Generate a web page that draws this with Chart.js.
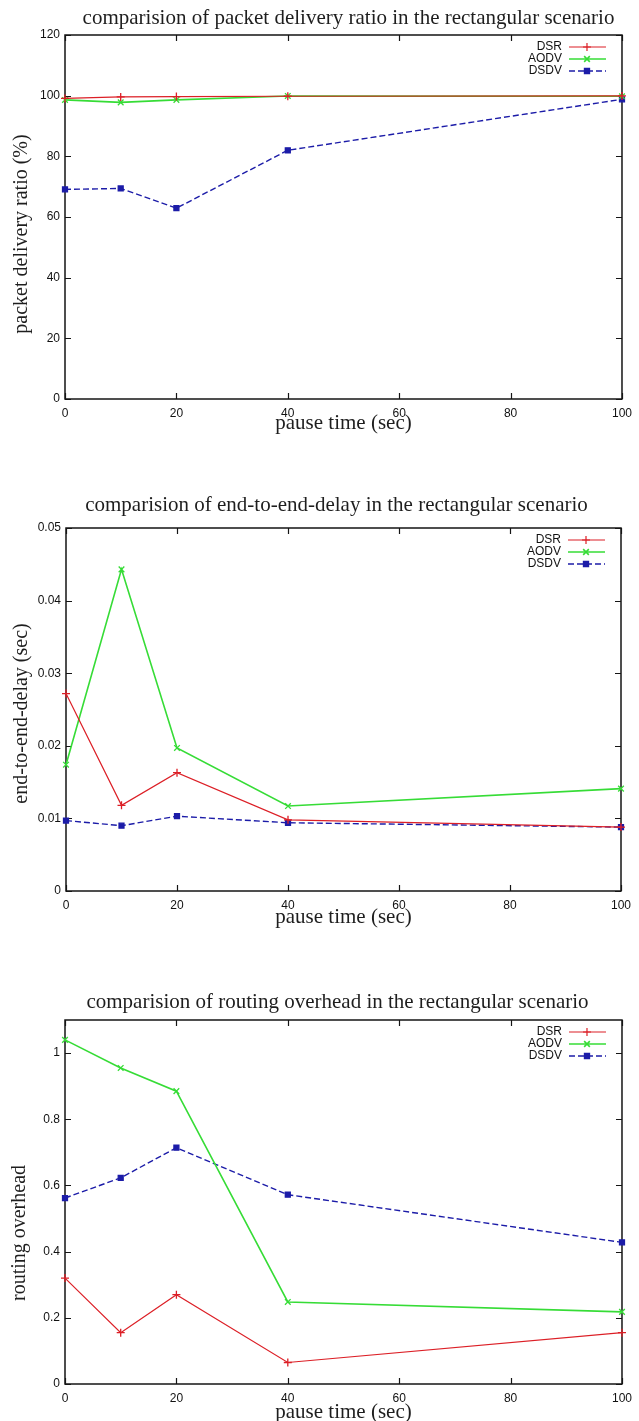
<!DOCTYPE html>
<html>
<head>
<meta charset="utf-8">
<script src="https://cdn.jsdelivr.net/npm/chart.js@4.4.0/dist/chart.umd.min.js"></script>
<style>
  body { margin: 0; background: #fff; width: 639px; height: 1421px; position: relative; overflow: hidden; }
  .box { position: absolute; left: 0; width: 639px; }
</style>
</head>
<body>
<div class="box" style="top:0;height:440px"><canvas id="c1"></canvas></div>
<div class="box" style="top:490px;height:440px"><canvas id="c2"></canvas></div>
<div class="box" style="top:980px;height:445px"><canvas id="c3"></canvas></div>
<script>
// data
const pauseTime = [0, 10, 20, 40, 100];
const protocols = ['DSR', 'AODV', 'DSDV'];

const pdrDSR  = [99.1, 99.6, 99.7, 99.8, 99.9];
const pdrAODV = [98.6, 97.8, 98.6, 99.9, 99.8];
const pdrDSDV = [69.1, 69.4, 62.9, 82.0, 98.8];

const delayDSR  = [0.0272, 0.0118, 0.0163, 0.0098, 0.0088];
const delayAODV = [0.0174, 0.0443, 0.0197, 0.0117, 0.0141];
const delayDSDV = [0.0097, 0.0090, 0.0103, 0.0094, 0.0088];

const ovhDSR  = [0.32, 0.155, 0.27, 0.065, 0.155];
const ovhAODV = [1.04, 0.955, 0.885, 0.248, 0.218];
const ovhDSDV = [0.562, 0.623, 0.714, 0.572, 0.428];

const xTicks     = [0, 20, 40, 60, 80, 100];
const pdrTicks   = [0, 20, 40, 60, 80, 100, 120];
const delayTicks = [0, 0.01, 0.02, 0.03, 0.04, 0.05];
const ovhTicks   = [0, 0.2, 0.4, 0.6, 0.8, 1];

// gnuplot-ish line types
const lineTypes = [
  { color: '#dc1f26', point: 'cross',    dash: [],     width: 1.2, radius: 4 },
  { color: '#36dc36', point: 'crossRot', dash: [],     width: 1.6, radius: 4 },
  { color: '#1c1ca8', point: 'rect',     dash: [6, 3], width: 1.4, radius: 3.5 }
];

const tickFont = { family: '"Liberation Sans", Arial, sans-serif', size: 12 };
const labelFont = { family: '"Liberation Serif", "Times New Roman", serif', size: 21 };

// frame, inward ticks, titles and key drawn like gnuplot
const gp = {
  id: 'gp',
  beforeDatasetsDraw(chart, args, o) {
    const { ctx, chartArea: a, scales } = chart;
    ctx.save();
    ctx.strokeStyle = '#151515';
    ctx.lineWidth = 1.5;
    ctx.strokeRect(a.left, a.top, a.width, a.height);
    ctx.lineWidth = 1.2;
    ctx.beginPath();
    scales.x.ticks.forEach(t => {
      const px = Math.round(scales.x.getPixelForValue(t.value)) + 0.5;
      ctx.moveTo(px, a.bottom); ctx.lineTo(px, a.bottom - 6);
      ctx.moveTo(px, a.top); ctx.lineTo(px, a.top + 6);
    });
    scales.y.ticks.forEach(t => {
      const py = Math.round(scales.y.getPixelForValue(t.value)) + 0.5;
      ctx.moveTo(a.left, py); ctx.lineTo(a.left + 6, py);
      ctx.moveTo(a.right, py); ctx.lineTo(a.right - 6, py);
    });
    ctx.stroke();
    ctx.restore();
  },
  afterDraw(chart, args, o) {
    const { ctx, chartArea: a } = chart;
    ctx.save();
    ctx.fillStyle = '#1e1e1e';
    ctx.font = '21px "Liberation Serif", "Times New Roman", serif';
    ctx.textAlign = 'center';
    ctx.textBaseline = 'middle';
    ctx.fillText(o.title, (a.left + a.right) / 2 + o.titleDx, a.top - o.titleGap);

    // y label, rotated
    ctx.save();
    ctx.font = '20px "Liberation Serif", "Times New Roman", serif';
    ctx.translate(o.yTitleX, (a.top + a.bottom) / 2 + o.yTitleDy);
    ctx.rotate(-Math.PI / 2);
    ctx.fillText(o.yTitle, 0, 0);
    ctx.restore();

    // key in the top right corner
    ctx.font = '12px "Liberation Sans", Arial, sans-serif';
    ctx.textAlign = 'right';
    chart.data.datasets.forEach((ds, i) => {
      const lt = lineTypes[i];
      const y = a.top + 12 + 12 * i;
      ctx.fillStyle = '#111';
      ctx.fillText(ds.label, a.right - 60, y);
      ctx.strokeStyle = lt.color;
      ctx.lineWidth = lt.width;
      ctx.setLineDash(lt.dash);
      ctx.beginPath();
      ctx.moveTo(a.right - 53, y); ctx.lineTo(a.right - 16, y);
      ctx.stroke();
      ctx.setLineDash([]);
      if (Chart.helpers && Chart.helpers.drawPoint) {
        ctx.fillStyle = lt.color;
        Chart.helpers.drawPoint(ctx, { pointStyle: lt.point, rotation: 0, radius: lt.radius, borderWidth: 1.3 }, a.right - 35, y);
      }
    });
    ctx.restore();
  }
};

function makeChart(id, series, cfg) {
  const datasets = series.map((vals, i) => {
    const lt = lineTypes[i];
    return {
      label: protocols[i],
      data: pauseTime.map((x, j) => ({ x: x, y: vals[j] })),
      borderColor: lt.color,
      backgroundColor: lt.color,
      borderWidth: lt.width,
      borderDash: lt.dash,
      pointStyle: lt.point,
      pointRadius: lt.radius,
      pointBorderWidth: 1.3,
      tension: 0,
      clip: 8
    };
  });
  return new Chart(document.getElementById(id), {
    type: 'line',
    data: { datasets: datasets },
    options: {
      responsive: true,
      maintainAspectRatio: false,
      animation: false,
      layout: { padding: { top: cfg.padTop, right: cfg.padRight, bottom: cfg.padBottom, left: 0 } },
      plugins: {
        legend: { display: false },
        tooltip: { enabled: false },
        gp: {
          title: cfg.title, titleGap: cfg.titleGap, titleDx: cfg.titleDx,
          yTitle: cfg.yTitle, yTitleX: cfg.yTitleX, yTitleDy: cfg.yTitleDy
        }
      },
      scales: {
        x: {
          type: 'linear', min: 0, max: 100,
          afterBuildTicks: s => { s.ticks = xTicks.map(v => ({ value: v })); },
          afterFit: s => { s.height = cfg.xHeight; },
          grid: { display: false, drawTicks: false },
          border: { display: false },
          ticks: { font: tickFont, color: '#111', padding: 7, maxRotation: 0, callback: v => String(v) },
          title: { display: true, text: 'pause time (sec)', font: labelFont, color: '#1e1e1e', padding: { top: 0, bottom: 0 } }
        },
        y: {
          type: 'linear', min: 0, max: cfg.yMax,
          afterBuildTicks: s => { s.ticks = cfg.yTicks.map(v => ({ value: v })); },
          afterFit: s => { s.width = cfg.yWidth; },
          grid: { display: false, drawTicks: false },
          border: { display: false },
          ticks: { font: tickFont, color: '#111', padding: 5, callback: v => String(v) },
          title: { display: false }
        }
      }
    },
    plugins: [gp]
  });
}

makeChart('c1', [pdrDSR, pdrAODV, pdrDSDV], {
  title: 'comparision of packet delivery ratio in the rectangular scenario',
  yTitle: 'packet delivery ratio (%)', yTitleX: 22, yTitleDy: 17,
  yMax: 120, yTicks: pdrTicks,
  padTop: 35, padRight: 11, padBottom: 4, xHeight: 37, yWidth: 65,
  titleGap: 17, titleDx: 5
});

makeChart('c2', [delayDSR, delayAODV, delayDSDV], {
  title: 'comparision of end-to-end-delay in the rectangular scenario',
  yTitle: 'end-to-end-delay (sec)', yTitleX: 22, yTitleDy: 4,
  yMax: 0.05, yTicks: delayTicks,
  padTop: 38, padRight: 18, padBottom: 0, xHeight: 39, yWidth: 66,
  titleGap: 23, titleDx: -7
});

makeChart('c3', [ovhDSR, ovhAODV, ovhDSDV], {
  title: 'comparision of routing overhead in the rectangular scenario',
  yTitle: 'routing overhead', yTitleX: 20, yTitleDy: 31,
  yMax: 1.1, yTicks: ovhTicks,
  padTop: 40, padRight: 11, padBottom: 0, xHeight: 41, yWidth: 65,
  titleGap: 18, titleDx: -6
});
</script>
</body>
</html>
